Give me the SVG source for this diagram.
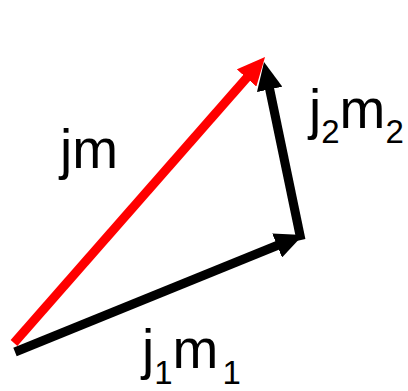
<svg xmlns="http://www.w3.org/2000/svg" width="408" height="391" viewBox="0 0 408 391">
  <style>
    .t { font-family: "Liberation Sans", Arial, sans-serif; font-size: 55px; fill: #000; }
    .s { font-size: 33px; }
    .ln { fill: none; stroke-width: 9; stroke-linecap: butt; }
  </style>
  <defs>
    <marker id="headR" viewBox="0 0 28 26" refX="4" refY="13" markerWidth="28" markerHeight="26" markerUnits="userSpaceOnUse" orient="auto">
      <path d="M0,0 L28,13 L0,26 z" fill="#ff0000"/>
    </marker>
    <marker id="headK" viewBox="0 0 28 26" refX="4" refY="13" markerWidth="28" markerHeight="26" markerUnits="userSpaceOnUse" orient="auto">
      <path d="M0,0 L28,13 L0,26 z" fill="#000"/>
    </marker>
  </defs>
  <g id="connectors">
    <line id="jm-vec" class="ln" x1="14" y1="343" x2="249.2" y2="75" stroke="#ff0000" marker-end="url(#headR)"/>
    <line id="j1m1-vec" class="ln" x1="15" y1="352" x2="280.8" y2="244" stroke="#000" marker-end="url(#headK)"/>
    <line id="j2m2-vec" class="ln" x1="301" y1="240" x2="268.9" y2="85.5" stroke="#000" stroke-width="10" marker-end="url(#headK)"/>
  </g>
  <g id="label-jm">
    <text class="t" x="60" y="168">jm</text>
  </g>
  <g id="label-j1m1">
    <text class="t" x="142" y="368">j<tspan class="s" dy="16">1</tspan><tspan dy="-16">m</tspan><tspan class="s" dx="4" dy="16">1</tspan></text>
  </g>
  <g id="label-j2m2">
    <text class="t" x="309" y="128">j<tspan class="s" dy="15">2</tspan><tspan dy="-15">m</tspan><tspan class="s" dy="15">2</tspan></text>
  </g>
</svg>
